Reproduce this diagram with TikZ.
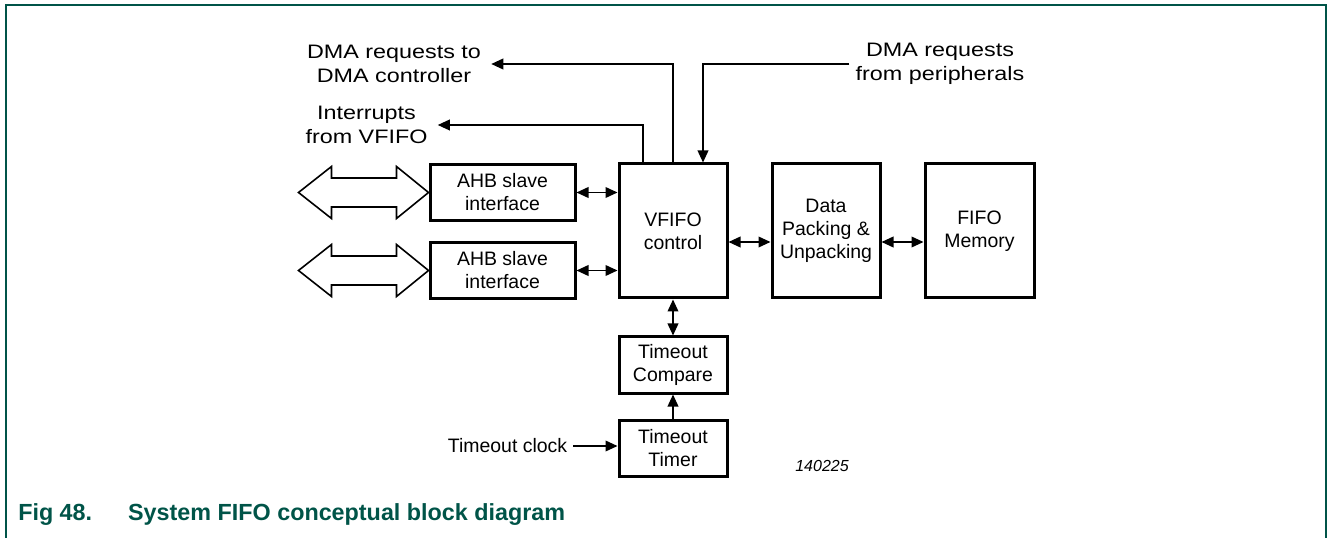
\documentclass[tikz,border=0pt]{standalone}
\usepackage{fontspec}
\setmainfont{Liberation Sans}
\newfontfamily\widefont[FakeStretch=1.2]{Liberation Sans}
\usetikzlibrary{arrows.meta}
\newlength{\px}
\setlength{\px}{0.75pt}
\definecolor{nxpgreen}{RGB}{0,84,72}
\newcommand{\BlocFont}{\fontsize{14.6}{17.3}\selectfont}
\newcommand{\LabelFont}{\widefont\fontsize{14.6}{18}\selectfont}
\tikzset{
	bloc/.style={draw,line width=2.25pt,align=center,font=\BlocFont,inner sep=0pt},
	lien/.style={line width=1.2pt,-{Triangle[length=9pt,width=8pt]}},
	liens/.style={line width=1.2pt,{Triangle[length=9pt,width=8pt]}-{Triangle[length=9pt,width=8pt]}},
	etiq/.style={align=center,font=\LabelFont,inner xsep=7.5pt,inner ysep=0pt},
}
\newcommand{\BusArrow}[1]{%
	\begin{scope}[shift={(#1.west)}]
		\draw[line width=1.2pt,line join=miter]
		(-130,0) -- (-97,-26) -- (-97,-14.5) -- (-32,-14.5) -- (-32,-26) -- (0,0)
		-- (-32,26) -- (-32,14.5) -- (-97,14.5) -- (-97,26) -- cycle;
	\end{scope}%
}

\begin{document}
\begin{tikzpicture}[x=\px,y=-\px]
	\useasboundingbox (0,0) rectangle (1328,538);
	
	% cadre
	\draw[nxpgreen,line width=1.5pt] (6,538) -- (6,5) -- (1326,5) -- (1326,538);
	
	% --- blocs ---
	\node[bloc,minimum width=145*\px,minimum height=56*\px] (ahb1) at (502.5,192.5) {AHB slave\\interface};
	\node[bloc,minimum width=145*\px,minimum height=56*\px] (ahb2) at (502.5,270.5) {AHB slave\\interface};
	\node[bloc,minimum width=108*\px,minimum height=134*\px] (vfifo) at (673,231) {VFIFO\\control};
	\node[bloc,minimum width=108*\px,minimum height=134*\px] (pack) at (826,231) {Data\\Packing \&\\Unpacking};
	\node[bloc,minimum width=109*\px,minimum height=134*\px] (mem) at (979.5,231) {FIFO\\Memory};
	\node[bloc,minimum width=108*\px,minimum height=56*\px] (cmp) at (673,365) {Timeout\\Compare};
	\node[bloc,minimum width=108*\px,minimum height=56*\px] (tmr) at (673,448) {Timeout\\Timer};
	
	% --- etiquettes ---
	\node[etiq] (dmaout) at (394,64) {DMA requests to\\DMA controller};
	\node[etiq] (irq) at (366.5,125) {Interrupts\\from VFIFO};
	\node[etiq,inner xsep=4.5pt] (dmain) at (940,64) {DMA requests\\from peripherals};
	\node[font=\BlocFont,inner sep=4.5pt] (clk) at (507.5,446) {Timeout clock};
	\node[font=\fontsize{12}{14}\selectfont\itshape] (ref) at (822,466) {140225};
	
	% --- bus AHB ---
	\BusArrow{ahb1}
	\BusArrow{ahb2}
	
	% --- liaisons ---
	\draw[lien] (vfifo.north) |- (dmaout.east);
	\draw[lien] ([xshift=-22.5pt]vfifo.north) |- (irq.east);
	\draw[lien] (dmain.west) -| ([xshift=22.5pt]vfifo.north);
	\draw[liens] (ahb1.east) -- (ahb1.east -| vfifo.west);
	\draw[liens] (ahb2.east) -- (ahb2.east -| vfifo.west);
	\draw[liens] ([yshift=-8.25pt]vfifo.east) -- ([yshift=-8.25pt]pack.west);
	\draw[liens] ([yshift=-8.25pt]pack.east) -- ([yshift=-8.25pt]mem.west);
	\draw[liens] (vfifo.south) -- (cmp.north);
	\draw[lien] (tmr.north) -- (cmp.south);
	\draw[lien] (clk.east) -- (clk.east -| tmr.west);
	
	% legende
	\node[anchor=west,inner sep=0pt,font=\bfseries\fontsize{17.5}{20}\selectfont,text=nxpgreen] (titre) at (18,515)
	{Fig 48.\hspace{27pt}System FIFO conceptual block diagram};
	
\end{tikzpicture}
\end{document}
